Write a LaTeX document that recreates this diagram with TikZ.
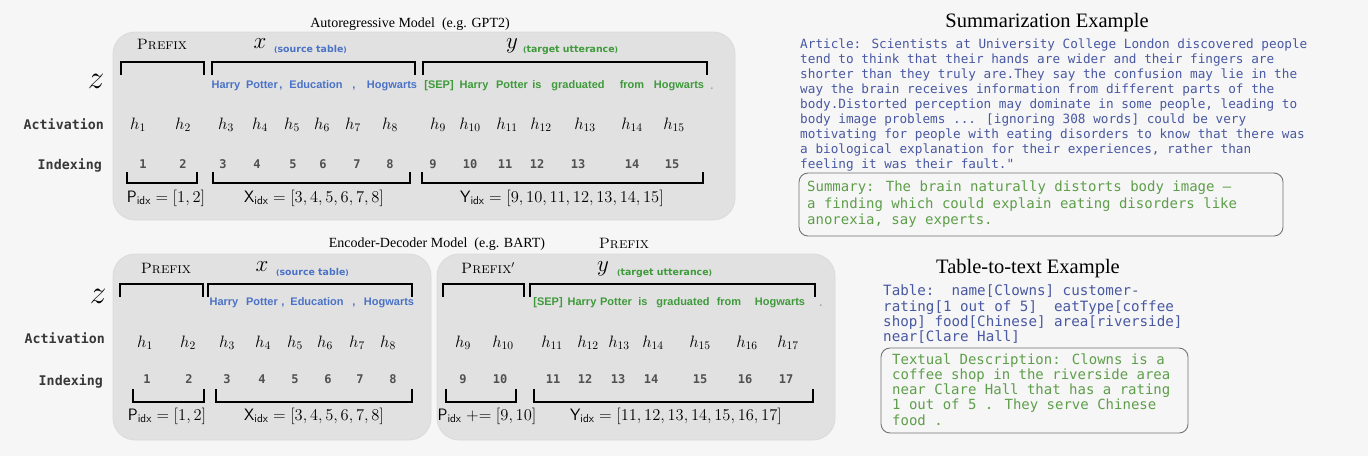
\RequirePackage{fix-cm}
\documentclass[tikz,border=0pt]{standalone}
\usepackage{amsmath}
\usepackage{fontspec}
\newfontfamily\monof{DejaVu Sans Mono}
\newfontfamily\tokf{Liberation Sans}
\newfontfamily\parf{DejaVu Sans}
\newfontfamily\titf{Liberation Serif}
\definecolor{bgc}{HTML}{F6F6F6}
\definecolor{panelc}{HTML}{E1E1E1}
\definecolor{tokblue}{HTML}{4A72C8}
\definecolor{tokgreen}{HTML}{3E9A3A}
\definecolor{artblue}{HTML}{4858A2}
\definecolor{sumgreen}{HTML}{5E9E4A}
\definecolor{idxgray}{HTML}{505050}
\tikzset{
  lbl/.style={inner sep=0pt, text height=.7em, text depth=.2em},
  tok/.style={lbl, font=\tokf\bfseries\fontsize{11}{13}\selectfont},
  tb/.style={tok, text=tokblue},
  tg/.style={tok, text=tokgreen},
  hh/.style={lbl, font=\fontsize{16.5}{19}\selectfont},
  ix/.style={lbl, font=\monof\bfseries\fontsize{12}{14}\selectfont, text=idxgray},
  rowlab/.style={lbl, anchor=east, font=\monof\bfseries\fontsize{13.3}{16}\selectfont, text=black!78},
  panelbox/.style={fill=panelc, draw=black!14, line width=0.8pt, rounded corners=22pt},
  brk/.style={line width=2.2pt, line join=miter},
  idxlab/.style={lbl, font=\fontsize{16.5}{19}\selectfont},
  pfx/.style={lbl, font=\fontsize{15}{18}\selectfont},
  bigsym/.style={lbl, font=\fontsize{23}{26}\selectfont},
  zsym/.style={lbl, font=\fontsize{33}{36}\selectfont},
  paren/.style={lbl, anchor=west, font=\parf\bfseries\fontsize{9.4}{11}\selectfont},
  ttl/.style={lbl, font=\titf\fontsize{14}{16}\selectfont},
  bigttl/.style={lbl, font=\titf\fontsize{20.5}{23}\selectfont},
  art/.style={lbl, anchor=west, font=\monof\fontsize{12.7}{15}\selectfont, text=artblue},
  sumt/.style={lbl, anchor=west, font=\monof\fontsize{14}{16}\selectfont, text=sumgreen},
  tabt/.style={lbl, anchor=west, font=\monof\fontsize{14.2}{16}\selectfont, text=artblue},
  outbox/.style={draw=black!55, line width=0.9pt, rounded corners=9pt}
}
\begin{document}
\begin{tikzpicture}[x=1pt,y=-1pt]
\fill[bgc] (0,0) rectangle (1368,456);
\useasboundingbox (0,0) rectangle (1368,456);

% ---------------- Autoregressive model ----------------
\node[ttl] (t1) at (410,25) {Autoregressive Model\ \ (e.g. GPT2)};
\draw[panelbox] (113,32) rectangle (735,220);

\node[pfx] (ap) at (162,47) {\textsc{Prefix}};
\node[bigsym] (ax) at (260,46) {$x$};
\node[paren, text=tokblue] (axs) at (274,50) {\scalebox{0.8}{(}source table\scalebox{0.8}{)}};
\node[bigsym] (ay) at (512,46) {$y$};
\node[paren, text=tokgreen] (ays) at (523,50) {\scalebox{0.8}{(}target utterance\scalebox{0.8}{)}};

\draw[brk] (121,75) -- (121,62) -- (204,62) -- (204,75);
\draw[brk] (212,75) -- (212,62) -- (415,62) -- (415,75);
\draw[brk] (423,75) -- (423,62) -- (707,62) -- (707,75);

\node[zsym] (az) at (96,86) {$z$};
\node[rowlab] (aact) at (104,127) {Activation};
\node[rowlab] (aind) at (102,167) {Indexing};

\foreach \p/\w/\n in {226/Harry/1, 262/Potter/2, 281/{,}/3, 316/Education/4, 354/{,}/5, 392/Hogwarts/6}
  \node[tb] (ab\n) at (\p,86) {\w};
\foreach \p/\w/\n in {439/{[SEP]}/1, 474/Harry/2, 512/Potter/3, 537/is/4, 578/graduated/5, 632/from/6, 679/Hogwarts/7}
  \node[tg] (ag\n) at (\p,86) {\w};
\node[tok, text=black!35] (agd) at (712,87) {.};

\foreach \p/\n in {138/1,183/2,226/3,260/4,292/5,322/6,353/7,390/8,438/9,470/10,507/11,541/12,585/13,632/14,674/15}
  \node[hh] (ah\n) at (\p,127) {$h_{\n}$};
\foreach \p/\n in {143/1,183/2,223/3,257/4,293/5,323/6,357/7,390/8,433/9,470/10,505/11,537/12,578/13,632/14,672/15}
  \node[ix] (ai\n) at (\p,166) {\n};

\draw[brk] (127,172) -- (127,183) -- (197,183) -- (197,172);
\draw[brk] (213,172) -- (213,183) -- (410,183) -- (410,172);
\draw[brk] (422,172) -- (422,183) -- (703,183) -- (703,172);

\node[idxlab] (apl) at (166,200) {$\mathsf{P}_{\mathsf{idx}}=[1,2]$};
\node[idxlab] (axl) at (314,200) {$\mathsf{X}_{\mathsf{idx}}=[3,4,5,6,7,8]$};
\node[idxlab] (ayl) at (562,200) {$\mathsf{Y}_{\mathsf{idx}}=[9,10,11,12,13,14,15]$};

% ---------------- Encoder-decoder model ----------------
\node[ttl] (t2) at (437,245) {Encoder-Decoder Model\ \ (e.g. BART)};
\node[pfx] (bstray) at (624,246) {\textsc{Prefix}};
\draw[panelbox] (113,254) rectangle (431,440);
\draw[panelbox] (437,254) rectangle (835,440);

\node[pfx] (bp) at (166,271) {\textsc{Prefix}};
\node[bigsym] (bx) at (262,269) {$x$};
\node[paren, text=tokblue] (bxs) at (276,273) {\scalebox{0.8}{(}source table\scalebox{0.8}{)}};
\node[pfx] (bp2) at (488,271) {\textsc{Prefix}$'$};
\node[bigsym] (by) at (603,269) {$y$};
\node[paren, text=tokgreen] (bys) at (617,273) {\scalebox{0.8}{(}target utterance\scalebox{0.8}{)}};

\draw[brk] (120,297) -- (120,284) -- (203,284) -- (203,297);
\draw[brk] (208,297) -- (208,284) -- (412,284) -- (412,297);
\draw[brk] (443,297) -- (443,284) -- (524,284) -- (524,297);
\draw[brk] (530,297) -- (530,284) -- (815,284) -- (815,297);

\node[zsym] (bz) at (98,301) {$z$};
\node[rowlab] (bact) at (105,341) {Activation};
\node[rowlab] (bind) at (103,383) {Indexing};

\foreach \p/\w/\n in {224/Harry/1, 262/Potter/2, 283/{,}/3, 317/Education/4, 354/{,}/5, 389/Hogwarts/6}
  \node[tb] (bb\n) at (\p,303) {\w};
\foreach \p/\w/\n in {548/{[SEP]}/1, 582/Harry/2, 616/Potter/3, 643/is/4, 683/graduated/5, 729/from/6, 780/Hogwarts/7}
  \node[tg] (bg\n) at (\p,303) {\w};
\node[tok, text=black!35] (bgd) at (821,304) {.};

\foreach \p/\n in {145/1,188/2,227/3,263/4,295/5,325/6,357/7,388/8,463/9,503/10,552/11,588/12,619/13,653/14,700/15,747/16,788/17}
  \node[hh] (bh\n) at (\p,345) {$h_{\n}$};
\foreach \p/\n in {147/1,189/2,227/3,262/4,295/5,328/6,360/7,393/8,463/9,500/10,553/11,585/12,618/13,651/14,700/15,745/16,786/17}
  \node[ix] (bi\n) at (\p,381) {\n};

\draw[brk] (133,389) -- (133,402) -- (204,402) -- (204,389);
\draw[brk] (216,389) -- (216,402) -- (412,402) -- (412,389);
\draw[brk] (446,389) -- (446,402) -- (516,402) -- (516,389);
\draw[brk] (534,389) -- (534,402) -- (813,402) -- (813,389);

\node[idxlab] (bpl) at (167,418) {$\mathsf{P}_{\mathsf{idx}}=[1,2]$};
\node[idxlab] (bxl) at (314,418) {$\mathsf{X}_{\mathsf{idx}}=[3,4,5,6,7,8]$};
\node[idxlab] (bpl2) at (487,418) {$\mathsf{P}_{\mathsf{idx}}\mathrel{+}=[9,10]$};
\node[idxlab] (byl) at (676,418) {$\mathsf{Y}_{\mathsf{idx}}=[11,12,13,14,15,16,17]$};

% ---------------- Summarization example ----------------
\node[bigttl] (st) at (1047,25) {Summarization Example};
\node[art] (a1) at (800,46) {Article: Scientists at University College London discovered people};
\node[art] (a2) at (800,61) {tend to think that their hands are wider and their fingers are};
\node[art] (a3) at (800,76) {shorter than they truly are.They say the confusion may lie in the};
\node[art] (a4) at (800,91) {way the brain receives information from different parts of the};
\node[art] (a5) at (800,106) {body.Distorted perception may dominate in some people, leading to};
\node[art] (a6) at (800,121) {body image problems ... [ignoring 308 words] could be very};
\node[art] (a7) at (800,136) {motivating for people with eating disorders to know that there was};
\node[art] (a8) at (800,151) {a biological explanation for their experiences, rather than};
\node[art] (a9) at (800,166) {feeling it was their fault."};
\draw[outbox] (799,173) rectangle (1283,236);
\node[sumt] (s1) at (807,189) {Summary: The brain naturally distorts body image –};
\node[sumt] (s2) at (807,206) {a finding which could explain eating disorders like};
\node[sumt] (s3) at (807,222) {anorexia, say experts.};

% ---------------- Table-to-text example ----------------
\node[bigttl] (tt) at (1028,271) {Table-to-text Example};
\node[tabt] (b1) at (883,293) {Table:\ \ name[Clowns] customer-};
\node[tabt] (b2) at (883,309) {rating[1 out of 5]\ \ eatType[coffee};
\node[tabt] (b3) at (883,324) {shop] food[Chinese] area[riverside]};
\node[tabt] (b4) at (883,339) {near[Clare Hall]};
\draw[outbox] (881,348) rectangle (1188,433);
\node[sumt] (d1) at (892,362) {Textual Description: Clowns is a};
\node[sumt] (d2) at (892,377) {coffee shop in the riverside area};
\node[sumt] (d3) at (892,392) {near Clare Hall that has a rating};
\node[sumt] (d4) at (892,407) {1 out of 5 . They serve Chinese};
\node[sumt] (d5) at (892,423) {food .};
\end{tikzpicture}
\end{document}
